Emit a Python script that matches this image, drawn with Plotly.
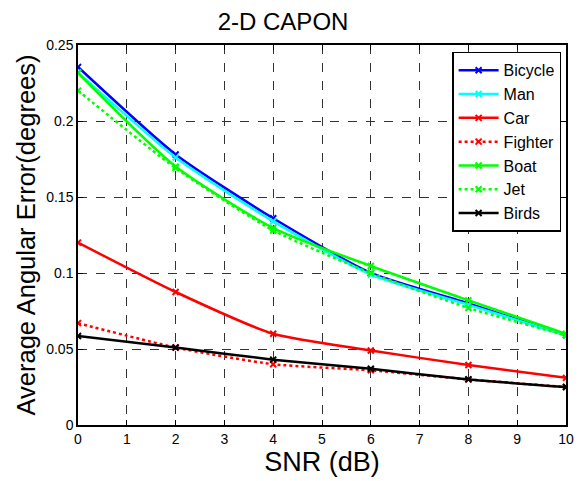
import plotly.graph_objects as go

snr = [0, 2, 4, 6, 8, 10]
bicycle = [0.2355, 0.178, 0.136, 0.100, 0.080, 0.059]
man = [0.232, 0.176, 0.134, 0.099, 0.079, 0.059]
car = [0.120, 0.0875, 0.060, 0.049, 0.0395, 0.031]
fighter = [0.067, 0.051, 0.040, 0.036, 0.030, 0.025]
boat = [0.2316, 0.170, 0.1296, 0.1046, 0.082, 0.060]
jet = [0.220, 0.169, 0.128, 0.100, 0.077, 0.059]
birds = [0.0585, 0.051, 0.043, 0.037, 0.030, 0.025]

series = [
    ("Bicycle", bicycle, "#0000FF", "solid"),
    ("Man", man, "#00FFFF", "solid"),
    ("Car", car, "#FF0000", "solid"),
    ("Fighter", fighter, "#FF0000", "dot"),
    ("Boat", boat, "#00FF00", "solid"),
    ("Jet", jet, "#00FF00", "dot"),
    ("Birds", birds, "#000000", "solid"),
]

fig = go.Figure()
for name, vals, color, dash in series:
    fig.add_trace(go.Scatter(
        x=snr, y=vals, name=name, mode="lines+markers",
        line=dict(color=color, width=2.5, dash=dash, shape="spline", smoothing=0.6),
        marker=dict(symbol="x-thin", size=6, line=dict(color=color, width=2), color=color),
    ))

font = "Liberation Sans, Arial, sans-serif"
fig.update_layout(
    width=586, height=481,
    margin=dict(l=78, r=18, t=45, b=56),
    paper_bgcolor="white", plot_bgcolor="white",
    font=dict(family=font, color="black", size=14),
    title=dict(text="2-D CAPON", x=0.483, xanchor="center", y=0.955, yanchor="middle",
               font=dict(size=24, family=font)),
    showlegend=True,
    legend=dict(x=0.99, xanchor="right", y=0.982, yanchor="top",
                bgcolor="white", bordercolor="black", borderwidth=1.5,
                font=dict(size=16, family=font), tracegroupgap=0, itemwidth=40),
    xaxis=dict(range=[0, 10], dtick=1, tick0=0, showgrid=True, gridcolor="#333333",
               griddash="dash", gridwidth=1, zeroline=False, showline=True,
               linecolor="black", linewidth=1.5, mirror="ticks", ticks="inside",
               ticklen=5, tickcolor="black",
               title=dict(text="SNR (dB)", font=dict(size=27, family=font), standoff=2),
               tickfont=dict(size=14)),
    yaxis=dict(range=[0, 0.25], dtick=0.05, tick0=0, showgrid=True, gridcolor="#333333",
               griddash="dash", gridwidth=1, zeroline=False, showline=True,
               linecolor="black", linewidth=1.5, mirror="ticks", ticks="inside",
               ticklen=5, tickcolor="black", tickformat="~g",
               title=dict(text="Average Angular Error(degrees)", font=dict(size=25.5, family=font), standoff=3),
               tickfont=dict(size=14)),
)

fig.write_html("out.html")
